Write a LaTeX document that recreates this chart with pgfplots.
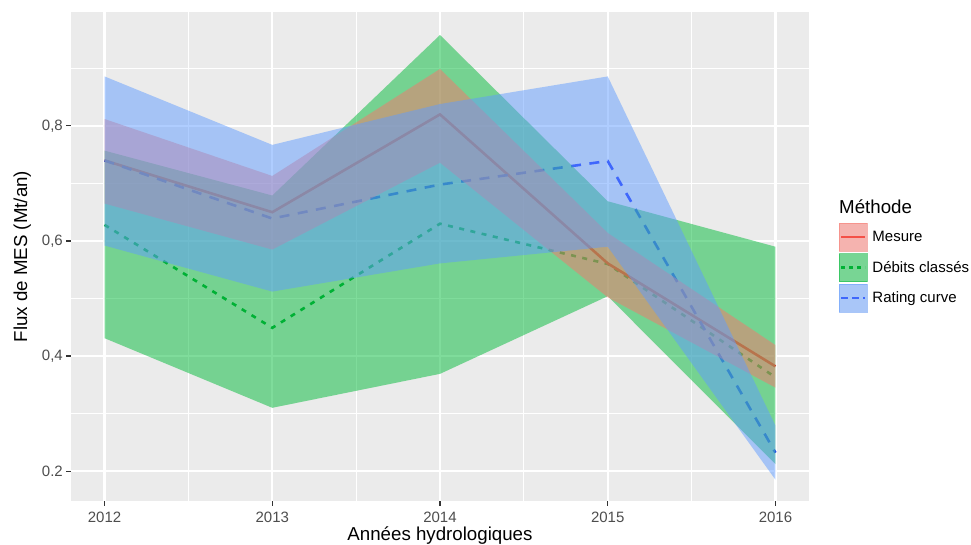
\documentclass[border=0pt]{standalone}
\usepackage{pgfplots}
\pgfplotsset{compat=1.18}
\usepackage{fontspec}
\setmainfont{Liberation Sans}
\definecolor{ggbg}{HTML}{EBEBEB}
\definecolor{ggtick}{HTML}{333333}
\definecolor{ggtxt}{HTML}{4D4D4D}
\definecolor{hred}{HTML}{F8766D}
\definecolor{hgreen}{HTML}{00BA38}
\definecolor{hblue}{HTML}{619CFF}
\definecolor{lred}{HTML}{F02A22}
\definecolor{lgreen}{HTML}{00A832}
\definecolor{lblue}{HTML}{1E32FA}
\definecolor{keybg}{HTML}{F2F2F2}
\begin{document}
\begin{tikzpicture}
\begin{axis}[
  at={(71pt,44pt)}, anchor=south west,
  width=738pt, height=489pt, scale only axis,
  xmin=2011.8, xmax=2016.2, ymin=0.148, ymax=0.998,
  axis background/.style={fill=ggbg},
  axis line style={draw=none},
  xtick={2012,2013,2014,2015,2016},
  xticklabels={2012,2013,2014,2015,2016},
  ytick={0.2,0.4,0.6,0.8},
  yticklabels={{0.2},{0,4},{0,6},{0,8}},
  minor xtick={2012.5,2013.5,2014.5,2015.5},
  minor ytick={0.3,0.5,0.7,0.9},
  grid=both,
  major grid style={white, line width=2.2pt},
  minor grid style={white, line width=1.1pt},
  tick pos=left, tick align=outside,
  major tick length=5pt, minor tick length=0pt,
  tick style={ggtick, line width=1.1pt},
  ticklabel style={font=\fontsize{15}{18}\selectfont, text=ggtxt},
  xticklabel style={inner sep=0pt, yshift=-6pt},
  yticklabel style={inner sep=0pt, xshift=-3pt},
  xlabel={Années hydrologiques},
  ylabel={Flux de MES (Mt/an)},
  label style={font=\fontsize{18.7}{22}\selectfont},
  xlabel style={at={(axis description cs:0.5,-0.0808)}, anchor=base},
  ylabel style={at={(axis description cs:-0.0596,0.5)}, anchor=base, rotate=0},
  legend style={at={(axis description cs:1.0407,0.5685)}, anchor=north west,
    draw=none, fill=none, inner sep=0pt, outer sep=0pt,
    row sep=2pt, column sep=5pt,
    font=\fontsize{15}{18}\selectfont,
    nodes={inner sep=0pt, anchor=west}},
  legend cell align=left,
]
% lines (drawn beneath the ribbons)
\addplot[forget plot, lgreen, line width=2.6pt, dash pattern=on 5pt off 6.5pt] coordinates {
  (2012,0.628) (2013,0.449) (2014,0.630) (2015,0.560) (2016,0.363)};
\addplot[forget plot, lred, line width=2.6pt] coordinates {
  (2012,0.740) (2013,0.650) (2014,0.820) (2015,0.561) (2016,0.382)};
\addplot[forget plot, lblue, line width=2.6pt, dash pattern=on 10pt off 8.5pt] coordinates {
  (2012,0.740) (2013,0.639) (2014,0.698) (2015,0.739) (2016,0.232)};
% ribbons: Débits classés, Mesure, Rating curve
\addplot[forget plot, draw=none, fill=hgreen, fill opacity=0.5] coordinates {
  (2012,0.757) (2013,0.679) (2014,0.958) (2015,0.669) (2016,0.590)
  (2016,0.212) (2015,0.504) (2014,0.369) (2013,0.310) (2012,0.431)};
\addplot[forget plot, draw=none, fill=hred, fill opacity=0.5] coordinates {
  (2012,0.812) (2013,0.713) (2014,0.899) (2015,0.614) (2016,0.419)
  (2016,0.345) (2015,0.502) (2014,0.736) (2013,0.585) (2012,0.665)};
\addplot[forget plot, draw=none, fill=hblue, fill opacity=0.5] coordinates {
  (2012,0.886) (2013,0.767) (2014,0.838) (2015,0.886) (2016,0.279)
  (2016,0.185) (2015,0.590) (2014,0.561) (2013,0.512) (2012,0.592)};
% legend
\addlegendimage{legend image code/.code={
  \fill[keybg] (0pt,-14pt) rectangle (28pt,14pt);
  \draw[lred, line width=2.4pt] (2pt,0pt) -- (26pt,0pt);
  \fill[hred, opacity=0.5] (0pt,-14pt) rectangle (28pt,14pt);}}
\addlegendentry{Mesure}
\addlegendimage{legend image code/.code={
  \fill[keybg] (0pt,-14pt) rectangle (28pt,14pt);
  \draw[lgreen, line width=2.4pt, dash pattern=on 4pt off 4pt] (2pt,0pt) -- (26pt,0pt);
  \fill[hgreen, opacity=0.5] (0pt,-14pt) rectangle (28pt,14pt);}}
\addlegendentry{Débits classés}
\addlegendimage{legend image code/.code={
  \fill[keybg] (0pt,-14pt) rectangle (28pt,14pt);
  \draw[lblue, line width=2.4pt, dash pattern=on 7pt off 4pt] (2pt,0pt) -- (26pt,0pt);
  \fill[hblue, opacity=0.5] (0pt,-14pt) rectangle (28pt,14pt);}}
\addlegendentry{Rating curve}
\end{axis}
\node[anchor=base west, inner sep=0pt, font=\fontsize{18.7}{22}\selectfont]
  at (839pt,331pt) {Méthode};
\pgfresetboundingbox
\path[use as bounding box] (0pt,0pt) rectangle (971pt,545pt);
\end{tikzpicture}
\end{document}
